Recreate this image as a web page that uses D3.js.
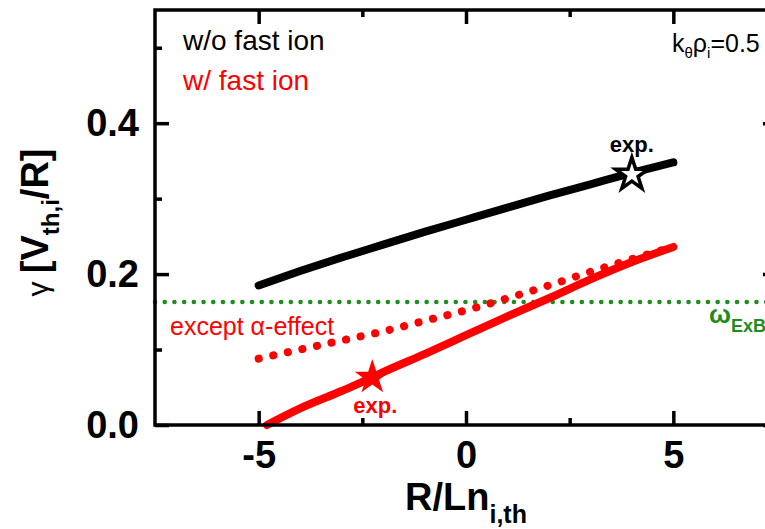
<!DOCTYPE html>
<html>
<head>
<meta charset="utf-8">
<script src="https://cdn.jsdelivr.net/npm/d3@7"></script>
<style>
  body { margin: 0; background: #fff; }
  svg { display: block; font-family: "Liberation Sans", Arial, sans-serif; }
</style>
</head>
<body>
<svg id="chart"></svg>
<script>
// Data
const xMajor = [-5, 0, 5];
const xMinor = [-2.5, 2.5];
const yMajor = [0.0, 0.2, 0.4];
const yMinor = [0.1, 0.3, 0.5];

const rln = [-5, -4, -3, -2, -1, 0, 1, 2, 3, 4, 5];
const gammaNoFast = [0.185, 0.204, 0.222, 0.239, 0.256, 0.272, 0.288, 0.304, 0.319, 0.334, 0.348];
const gammaExceptAlpha = [0.088, 0.100, 0.112, 0.124, 0.138, 0.152, 0.168, 0.185, 0.203, 0.220, 0.236];

const rlnFast = [-4.8, -4, -3, -2.3, -2, -1, 0, 1, 2, 3, 4, 5];
const gammaFast = [0.0, 0.022, 0.045, 0.062, 0.070, 0.094, 0.119, 0.144, 0.168, 0.193, 0.216, 0.236];

const omegaExB = 0.163;
const expNoFast = { x: 4.0, y: 0.332 };
const expFast = { x: -2.26, y: 0.063 };

const width = 765;
const height = 529;
const marginTop = 10;
const marginRight = -12; // right frame sits just outside the picture
const marginBottom = 104;
const marginLeft = 155;

const x = d3.scaleLinear().domain([-7.5, 7.5]).range([marginLeft, width - marginRight]);
const y = d3.scaleLinear().domain([0, 0.55]).range([height - marginBottom, marginTop]);

const green = "#1e8c1e";
const red = "#ff0000";

const svg = d3.select("#chart")
  .attr("width", width)
  .attr("height", height)
  .attr("viewBox", [0, 0, width, height]);

// Horizontal ExB line
svg.append("line")
  .attr("x1", x(-7.5)).attr("x2", x(7.5))
  .attr("y1", y(omegaExB)).attr("y2", y(omegaExB))
  .attr("stroke", green)
  .attr("stroke-width", 4.5)
  .attr("stroke-linecap", "round")
  .attr("stroke-dasharray", "0.1 9.6");

const line = d3.line().curve(d3.curveMonotoneX).x(d => x(d[0])).y(d => y(d[1]));

// except alpha-effect (dotted red)
svg.append("path")
  .datum(d3.zip(rln, gammaExceptAlpha))
  .attr("d", line)
  .attr("fill", "none")
  .attr("stroke", red)
  .attr("stroke-width", 8)
  .attr("stroke-linecap", "round")
  .attr("stroke-dasharray", "0.1 14.8");

// w/ fast ion
svg.append("path")
  .datum(d3.zip(rlnFast, gammaFast))
  .attr("d", line)
  .attr("fill", "none")
  .attr("stroke", red)
  .attr("stroke-width", 8)
  .attr("stroke-linecap", "round");

// w/o fast ion
svg.append("path")
  .datum(d3.zip(rln, gammaNoFast))
  .attr("d", line)
  .attr("fill", "none")
  .attr("stroke", "#000")
  .attr("stroke-width", 8)
  .attr("stroke-linecap", "round");

// Experimental points
svg.append("path")
  .attr("d", d3.symbol().type(d3.symbolStar).size(330))
  .attr("transform", `translate(${x(expNoFast.x)},${y(expNoFast.y)})`)
  .attr("fill", "#fff")
  .attr("stroke", "#000")
  .attr("stroke-width", 3.5)
  .attr("stroke-linejoin", "miter");

svg.append("path")
  .attr("d", d3.symbol().type(d3.symbolStar).size(380))
  .attr("transform", `translate(${x(expFast.x)},${y(expFast.y)})`)
  .attr("fill", red);

svg.append("text")
  .attr("x", x(expNoFast.x))
  .attr("y", y(expNoFast.y) - 22)
  .attr("text-anchor", "middle")
  .attr("font-size", 22).attr("font-weight", "bold")
  .text("exp.");

svg.append("text")
  .attr("x", x(expFast.x) + 3)
  .attr("y", y(expFast.y) + 36)
  .attr("text-anchor", "middle")
  .attr("font-size", 22).attr("font-weight", "bold")
  .attr("fill", red)
  .text("exp.");

// Axes: inward ticks on all four sides
const bottom = height - marginBottom;
const frameW = 3.5;

const styleAxis = g => {
  g.select(".domain").remove();
  g.selectAll(".tick line").attr("stroke", "#000").attr("stroke-width", frameW);
  g.selectAll(".tick text")
    .attr("fill", "#000")
    .attr("font-size", 38)
    .attr("font-weight", "bold")
    .attr("font-family", "'Liberation Sans', Arial, sans-serif");
};

svg.append("g")
  .attr("transform", `translate(0,${bottom})`)
  .call(d3.axisBottom(x).tickValues(xMajor).tickSize(-14).tickPadding(16).tickFormat(d => String(d)))
  .call(styleAxis);
svg.append("g")
  .attr("transform", `translate(0,${bottom})`)
  .call(d3.axisBottom(x).tickValues(xMinor).tickSize(-7).tickFormat(""))
  .call(styleAxis);
svg.append("g")
  .attr("transform", `translate(0,${marginTop})`)
  .call(d3.axisTop(x).tickValues(xMajor).tickSize(-14).tickFormat(""))
  .call(styleAxis);
svg.append("g")
  .attr("transform", `translate(0,${marginTop})`)
  .call(d3.axisTop(x).tickValues(xMinor).tickSize(-7).tickFormat(""))
  .call(styleAxis);

svg.append("g")
  .attr("transform", `translate(${marginLeft},0)`)
  .call(d3.axisLeft(y).tickValues(yMajor).tickSize(-14).tickPadding(16).tickFormat(d => d.toFixed(1)))
  .call(styleAxis);
svg.append("g")
  .attr("transform", `translate(${marginLeft},0)`)
  .call(d3.axisLeft(y).tickValues(yMinor).tickSize(-7).tickFormat(""))
  .call(styleAxis);
svg.append("g")
  .attr("transform", `translate(${width - marginRight},0)`)
  .call(d3.axisRight(y).tickValues(yMajor).tickSize(-14).tickFormat(""))
  .call(styleAxis);
svg.append("g")
  .attr("transform", `translate(${width - marginRight},0)`)
  .call(d3.axisRight(y).tickValues(yMinor).tickSize(-7).tickFormat(""))
  .call(styleAxis);

// Frame
svg.append("rect")
  .attr("x", marginLeft).attr("y", marginTop)
  .attr("width", x.range()[1] - marginLeft)
  .attr("height", bottom - marginTop)
  .attr("fill", "none")
  .attr("stroke", "#000")
  .attr("stroke-width", frameW);

// Legend and annotations
svg.append("text")
  .attr("x", 183).attr("y", 50)
  .attr("font-size", 28)
  .text("w/o fast ion");
svg.append("text")
  .attr("x", 183).attr("y", 90)
  .attr("font-size", 28)
  .attr("fill", red)
  .text("w/ fast ion");

svg.append("text")
  .attr("x", 170).attr("y", 335)
  .attr("font-size", 25)
  .attr("fill", red)
  .text("except α-effect");

const kt = svg.append("text")
  .attr("x", 672).attr("y", 52)
  .attr("font-size", 25);
kt.append("tspan").text("k");
kt.append("tspan").attr("font-size", 15).attr("dy", 6).text("θ");
kt.append("tspan").attr("dy", -6).text("ρ");
kt.append("tspan").attr("font-size", 15).attr("dy", 6).text("i");
kt.append("tspan").attr("dy", -6).text("=0.5");

const om = svg.append("text")
  .attr("x", 709).attr("y", 323)
  .attr("font-size", 26)
  .attr("font-weight", "bold")
  .attr("fill", green);
om.append("tspan").text("ω");
om.append("tspan").attr("font-size", 18).attr("dy", 9).text("ExB");

// Axis titles
const xl = svg.append("text")
  .attr("x", x(0)).attr("y", 510)
  .attr("text-anchor", "middle")
  .attr("font-size", 38)
  .attr("font-weight", "bold");
xl.append("tspan").text("R/Ln");
xl.append("tspan").attr("font-size", 25).attr("dy", 13).text("i,th");

const yl = svg.append("text")
  .attr("transform", `translate(48,${(marginTop + bottom) / 2 + 5}) rotate(-90)`)
  .attr("text-anchor", "middle")
  .attr("font-size", 38)
  .attr("font-weight", "bold");
yl.append("tspan").attr("font-weight", "normal").attr("font-size", 30).text("γ ");
yl.append("tspan").text("[V");
yl.append("tspan").attr("font-size", 24).attr("dy", 11).text("th,i");
yl.append("tspan").attr("dy", -11).text("/R]");
</script>
</body>
</html>
